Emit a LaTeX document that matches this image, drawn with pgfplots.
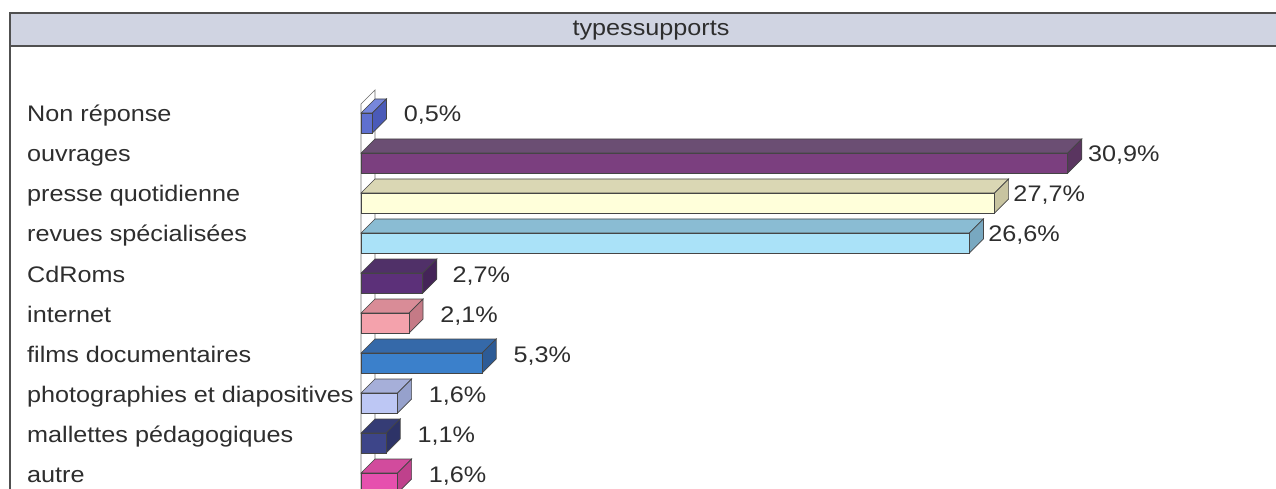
\documentclass[border=0pt]{standalone}
\usepackage{pgfplots}
\pgfplotsset{compat=1.18}
\usepackage{fontspec}
\setmainfont{Liberation Sans}[FakeStretch=1.12]
\definecolor{edgec}{HTML}{454545}
\definecolor{txt}{HTML}{2E2E2E}
\definecolor{band}{HTML}{D0D4E2}
\definecolor{frm}{HTML}{505050}
% front, top, side colours
\definecolor{f1}{HTML}{5F70D0}\definecolor{t1}{HTML}{7787DC}\definecolor{s1}{HTML}{4A5AB8}
\definecolor{f2}{HTML}{7B3F7F}\definecolor{t2}{HTML}{6B4E73}\definecolor{s2}{HTML}{5A3560}
\definecolor{f3}{HTML}{FFFFDA}\definecolor{t3}{HTML}{DAD7B4}\definecolor{s3}{HTML}{C8C4A0}
\definecolor{f4}{HTML}{AAE2F8}\definecolor{t4}{HTML}{8ABCD3}\definecolor{s4}{HTML}{78A8C0}
\definecolor{f5}{HTML}{5C3079}\definecolor{t5}{HTML}{503068}\definecolor{s5}{HTML}{442458}
\definecolor{f6}{HTML}{F4A2AC}\definecolor{t6}{HTML}{D98C97}\definecolor{s6}{HTML}{C57A86}
\definecolor{f7}{HTML}{3B80CB}\definecolor{t7}{HTML}{3569A9}\definecolor{s7}{HTML}{2D5B96}
\definecolor{f8}{HTML}{BDC7F4}\definecolor{t8}{HTML}{A6AFD9}\definecolor{s8}{HTML}{96A1CC}
\definecolor{f9}{HTML}{3D4589}\definecolor{t9}{HTML}{353C75}\definecolor{s9}{HTML}{2D3367}
\definecolor{f10}{HTML}{E650AE}\definecolor{t10}{HTML}{D24B9D}\definecolor{s10}{HTML}{BF418C}
\newcommand\lfont{\fontsize{22.5}{27}\selectfont}
\def\dxv{0.612}
\def\dyv{0.35}
% #1 row, #2 value, #3 colour index, #4 label text, #5 label shift
\newcommand\bartd[5]{%
  \pgfmathsetmacro\xe{#2+\dxv}%
  \pgfmathsetmacro\yt{#1+\dyv}%
  \pgfmathsetmacro\yb{#1-0.5+\dyv}%
  \pgfmathsetmacro\yl{#1-0.5}%
  \edef\tmp{%
    \noexpand\addplot[fill=t#3, draw=edgec, line width=0.7pt] coordinates {(0,#1) (\dxv,\yt) (\xe,\yt) (#2,#1)} -- cycle;
    \noexpand\addplot[fill=s#3, draw=edgec, line width=0.7pt] coordinates {(#2,#1) (\xe,\yt) (\xe,\yb) (#2,\yl)} -- cycle;
  }\tmp
  \addplot[xbar, bar width=20pt, bar shift=-10pt, fill=f#3, draw=edgec, line width=0.7pt,
    nodes near coords={#4},
    every node near coord/.append style={anchor=base west, inner sep=0pt, xshift=#5, yshift=-9pt, font=\lfont, text=txt}]
    coordinates {(#2,#1)};
}
\begin{document}
\begin{tikzpicture}
\useasboundingbox (0,0) rectangle (1276pt,-489pt);
\fill[white] (0,0) rectangle (1276pt,-489pt);
\fill[band] (10pt,-13pt) rectangle (1400pt,-46pt);
\draw[frm, line width=1.2pt] (10pt,-46pt) -- (1400pt,-46pt);
\draw[frm, line width=1.8pt] (10pt,-600pt) |- (1400pt,-13pt);
\node[font=\lfont, text=txt] at (651pt,-31pt) {typessupports};
\begin{axis}[
  at={(361pt,-73pt)}, anchor=north west,
  scale only axis, width=915pt, height=440pt,
  xmin=0, xmax=40, ymin=-1, ymax=10,
  clip=false,
  axis line style={draw=none},
  xtick=\empty,
  ytick={0,...,9},
  yticklabels={autre, mallettes pédagogiques, photographies et diapositives, films documentaires, internet, CdRoms, revues spécialisées, presse quotidienne, ouvrages, Non réponse},
  major tick length=0pt,
  yticklabel style={anchor=base west, inner sep=0pt, xshift=-334pt, yshift=-9pt, font=\lfont, text=txt},
]
\addplot[draw=edgec!80, line width=0.7pt] coordinates {(0,-1.5) (0,9.225) (0.612,9.575) (0.612,-1.5)};
\bartd{9}{0.5}{1}{0,5\%}{31pt}
\bartd{8}{30.9}{2}{30,9\%}{20pt}
\bartd{7}{27.7}{3}{27,7\%}{18.5pt}
\bartd{6}{26.6}{4}{26,6\%}{18.5pt}
\bartd{5}{2.7}{5}{2,7\%}{29.5pt}
\bartd{4}{2.1}{6}{2,1\%}{31pt}
\bartd{3}{5.3}{7}{5,3\%}{31pt}
\bartd{2}{1.6}{8}{1,6\%}{31pt}
\bartd{1}{1.1}{9}{1,1\%}{31pt}
\bartd{0}{1.6}{10}{1,6\%}{31pt}
\end{axis}
\end{tikzpicture}
\end{document}
